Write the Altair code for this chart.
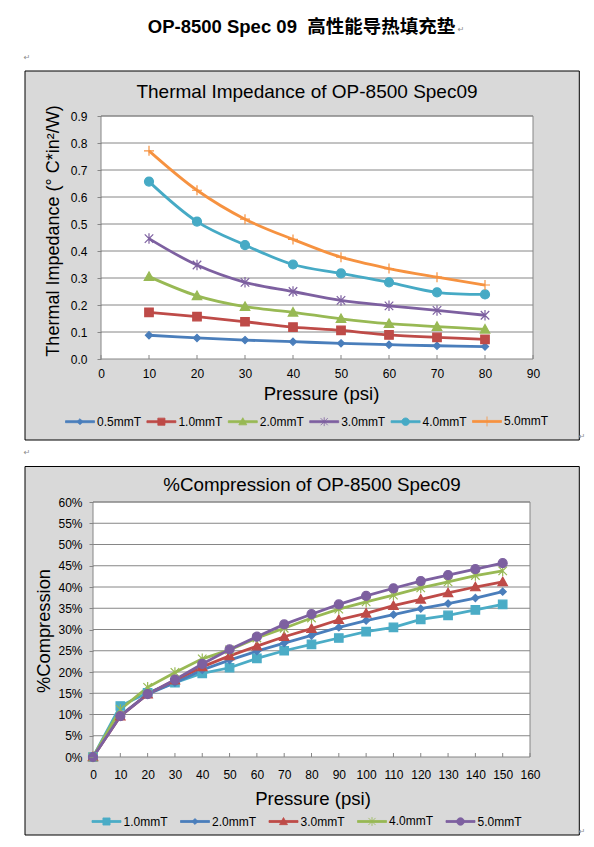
import altair as alt
import pandas as pd

# ---------------- data ----------------
SERIES_1 = ["0.5mmT", "1.0mmT", "2.0mmT", "3.0mmT", "4.0mmT", "5.0mmT"]
PRESSURE_1 = [10, 20, 30, 40, 50, 60, 70, 80]
TI_05 = [0.088, 0.078, 0.070, 0.064, 0.058, 0.053, 0.049, 0.046]
TI_10 = [0.173, 0.157, 0.138, 0.118, 0.106, 0.089, 0.080, 0.073]
TI_20 = [0.305, 0.234, 0.194, 0.173, 0.149, 0.131, 0.120, 0.110]
TI_30 = [0.446, 0.348, 0.284, 0.250, 0.217, 0.197, 0.180, 0.162]
TI_40 = [0.657, 0.509, 0.422, 0.350, 0.317, 0.284, 0.247, 0.239]
TI_50 = [0.771, 0.625, 0.518, 0.443, 0.377, 0.335, 0.303, 0.274]

SERIES_2 = ["1.0mmT", "2.0mmT", "3.0mmT", "4.0mmT", "5.0mmT"]
PRESSURE_2 = [0, 10, 20, 30, 40, 50, 60, 70, 80, 90, 100, 110, 120, 130, 140, 150]
CP_10 = [0.0, 12.0, 15.1, 17.5, 19.7, 21.0, 23.2, 25.0, 26.5, 28.0, 29.5, 30.5, 32.4, 33.3, 34.6, 35.9]
CP_20 = [0.0, 9.8, 14.8, 17.5, 20.5, 22.8, 24.9, 26.8, 28.6, 30.5, 32.1, 33.5, 34.9, 36.1, 37.4, 38.9]
CP_30 = [0.0, 9.6, 14.8, 18.1, 21.2, 23.8, 26.1, 28.3, 30.2, 32.3, 33.8, 35.6, 37.1, 38.6, 40.0, 41.2]
CP_40 = [0.0, 11.2, 16.4, 19.9, 23.1, 25.2, 28.0, 30.3, 32.7, 34.8, 36.5, 38.1, 39.8, 41.2, 42.7, 43.8]
CP_50 = [0.0, 9.6, 14.8, 18.2, 21.9, 25.3, 28.3, 31.2, 33.6, 35.9, 37.9, 39.7, 41.4, 42.8, 44.2, 45.6]

X_TICKS_1 = [0, 10, 20, 30, 40, 50, 60, 70, 80, 90]
Y_TICKS_1 = [0.0, 0.1, 0.2, 0.3, 0.4, 0.5, 0.6, 0.7, 0.8, 0.9]
X_TICKS_2 = [0, 10, 20, 30, 40, 50, 60, 70, 80, 90, 100, 110, 120, 130, 140, 150, 160]
Y_TICKS_2 = [0.0, 0.05, 0.10, 0.15, 0.20, 0.25, 0.30, 0.35, 0.40, 0.45, 0.50, 0.55, 0.60]

HEADER = "OP-8500 Spec 09\u00a0 高性能导热填充垫"
TITLE_1 = "Thermal Impedance of OP-8500 Spec09"
YTITLE_1 = "Thermal Impedance (° C*in²/W)"
TITLE_2 = "%Compression of OP-8500 Spec09"
YTITLE_2 = "%Compression"
XTITLE = "Pressure (psi)"

df1 = pd.DataFrame([{"p": p, "v": v, "s": s}
                    for s, vals in zip(SERIES_1, [TI_05, TI_10, TI_20, TI_30, TI_40, TI_50])
                    for p, v in zip(PRESSURE_1, vals)])
df2 = pd.DataFrame([{"p": p, "v": v / 100.0, "s": s}
                    for s, vals in zip(SERIES_2, [CP_10, CP_20, CP_30, CP_40, CP_50])
                    for p, v in zip(PRESSURE_2, vals)])
one = pd.DataFrame({"k": [0]})

# ---------------- styles ----------------
FONT = "Liberation Sans"
GRID = "#868686"
BOXFILL = "#d9d9d9"
RET = "#8c8c8c"
COLORS_1 = ["#4a7ebb", "#be4b48", "#98b954", "#7d60a0", "#46aac5", "#f69240"]
COLORS_2 = ["#4bacc6", "#4a7ebb", "#be4b48", "#98b954", "#7d60a0"]
MARKS_1 = ["diamond", "square", "triangle", "star", "circle", "plus"]
MARKS_2 = ["square", "diamond", "triangle", "star", "circle"]


def f(v):
    return ("%.4f" % v).rstrip("0").rstrip(".")


def circle_path(r):
    k = 0.5523 * r
    return ("M{r},0C{r},{k} {k},{r} 0,{r}C{mk},{r} {mr},{k} {mr},0"
            "C{mr},{mk} {mk},{mr} 0,{mr}C{k},{mr} {r},{mk} {r},0Z").format(
        r=f(r), k=f(k), mr=f(-r), mk=f(-k))


def marker_paths(s):
    """marker outlines, s = unit half-size"""
    return {
        "diamond": "M0,{a}L{b},0L0,{c}L{a},0Z".format(a=f(-0.72 * s), b=f(0.72 * s), c=f(0.72 * s)),
        "square": "M{a},{a}H{b}V{b}H{a}Z".format(a=f(-0.85 * s), b=f(0.85 * s)),
        "triangle": "M0,{t}L{w},{h}H{mw}Z".format(t=f(-0.95 * s), w=f(0.95 * s), h=f(0.75 * s), mw=f(-0.95 * s)),
        "star": "M{a},{a}L{b},{b}M{a},{b}L{b},{a}M0,{c}V{d}".format(
            a=f(-0.85 * s), b=f(0.85 * s), c=f(-1.05 * s), d=f(1.05 * s)),
        "circle": circle_path(0.9 * s),
        "plus": "M{a},0H{b}M0,{a}V{b}".format(a=f(-1.0 * s), b=f(1.0 * s)),
    }


PT = marker_paths(1.0)            # plot markers, drawn at size 100 (1 unit = 5 px)
LGM = marker_paths(0.29)          # legend markers, drawn at size 841 (1 unit = 14.5 px)
LGM["plus"] = "M0,-0.34V0.34"
SEG = "M-1,-0.069H1V0.069H-1Z"   # legend line segment, 29 px long


def rect(x1, y1, x2, y2, fill, stroke=None, sw=0):
    kw = dict(fill=fill)
    if stroke:
        kw.update(stroke=stroke, strokeWidth=sw)
    return alt.Chart(one).mark_rect(**kw).encode(
        x=alt.value(x1), x2=alt.value(x2), y=alt.value(y1), y2=alt.value(y2))


def text(t, x, y, size, font=FONT, color="black", **kw):
    return alt.Chart(one).mark_text(text=t, fontSize=size, font=font, color=color,
                                    align="center", baseline="middle", **kw).encode(
        x=alt.value(x), y=alt.value(y))


def ret(x, y):
    return text("\u21b5", x, y, 8, font="DejaVu Sans", color=RET)


def axis_x(values, pad):
    return alt.Axis(values=values, format="d", title=None, grid=False, domain=False, ticks=False,
                    labelPadding=pad, labelFlush=False, labelOverlap=False, zindex=1,
                    labelFont=FONT, labelFontSize=12, labelColor="black")


def axis_y(values, fmt, pad, offset=0):
    return alt.Axis(values=values, format=fmt, title=None, grid=False, domain=False,
                    tickSize=4, tickColor=GRID, tickWidth=1, labelPadding=pad, offset=offset,
                    labelFlush=False, labelOverlap=False, zindex=1,
                    labelFont=FONT, labelFontSize=12, labelColor="black")


def make_legend(lx, ly, ncol, colpad):
    return alt.Legend(title=None, orient="none", legendX=lx, legendY=ly, direction="horizontal",
                      columns=ncol, columnPadding=colpad, symbolSize=841, symbolStrokeWidth=0.8,
                      labelOffset=2, padding=0, labelFont=FONT, labelFontSize=12,
                      labelColor="black", zindex=1)


def data_layers(df, series, colors, marks, xs, ys, xax, yax, legend, x0, x1, H, xticks, ygrid, interp):
    grid = alt.Chart(pd.DataFrame({"v": ygrid})).mark_rule(color=GRID, strokeWidth=1).encode(
        y=alt.Y("v:Q", scale=ys, axis=yax), x=alt.value(x0), x2=alt.value(x1))
    ticks = alt.Chart(pd.DataFrame({"p": xticks})).mark_rule(color=GRID, strokeWidth=1).encode(
        x=alt.X("p:Q", scale=xs, axis=xax), y=alt.value(H - 4), y2=alt.value(H))
    lkw = dict(strokeWidth=2.8)
    if interp:
        lkw["interpolate"] = interp
    lines = alt.Chart(df).mark_line(**lkw).encode(
        x=alt.X("p:Q", scale=xs, axis=xax),
        y=alt.Y("v:Q", scale=ys, axis=yax),
        color=alt.Color("s:N", scale=alt.Scale(domain=series, range=colors), legend=None),
    )
    pts = alt.Chart(df).mark_point(filled=True, size=100, strokeWidth=1.2, opacity=1).encode(
        x=alt.X("p:Q", scale=xs, axis=xax),
        y=alt.Y("v:Q", scale=ys, axis=yax),
        color=alt.Color("s:N", scale=alt.Scale(domain=series, range=colors), legend=None),
        stroke=alt.Stroke("s:N", scale=alt.Scale(domain=series, range=colors), legend=None),
        shape=alt.Shape("s:N", scale=alt.Scale(domain=series, range=[PT[m] for m in marks]), legend=None),
    )
    # legend-only layer: no rows survive the filter, the legend comes from the scale domains
    leg = alt.Chart(df).transform_filter("datum.v < 0").mark_point(
        filled=True, size=841, strokeWidth=0.8, opacity=1).encode(
        color=alt.Color("s:N", scale=alt.Scale(domain=series, range=colors), legend=legend),
        stroke=alt.Stroke("s:N", scale=alt.Scale(domain=series, range=colors), legend=legend),
        shape=alt.Shape("s:N", scale=alt.Scale(domain=series, range=[SEG + " " + LGM[m] for m in marks]),
                        legend=legend),
    )
    return [grid, ticks, lines, pts, leg]


RES = dict(color="independent", stroke="independent", shape="independent")

# both panels share the same group origin (x = 101 on the page)
# ---------------- panel 1 : thermal impedance ----------------
W1, H1 = 432, 243
X1 = lambda px: px - 101
Y1 = lambda py: py - 116
xs1 = alt.Scale(domain=[0, 90], nice=False, zero=False)
ys1 = alt.Scale(domain=[0, 0.9], nice=False)
leg1 = make_legend(X1(65), Y1(406.2), 6, 2.4)
p1_layers = [
    rect(X1(8), Y1(8), X1(584), Y1(460), "white"),
    rect(X1(25), Y1(71), X1(579.3), Y1(440), BOXFILL, "black", 1),
    rect(0, 0, W1, H1, "white", GRID, 1),
] + data_layers(df1, SERIES_1, COLORS_1, MARKS_1, xs1, ys1,
                axis_x(X_TICKS_1, 9.8), axis_y(Y_TICKS_1, ".1f", 10), leg1,
                0, W1, H1, X_TICKS_1, Y_TICKS_1[1:], "catmull-rom") + [
    text(HEADER, X1(301.5), Y1(26.7), 18.5, font=FONT + ", Noto Sans CJK SC", fontWeight="bold"),
    ret(X1(461), Y1(30)),
    ret(X1(27), Y1(58)),
    text(TITLE_1, X1(307), Y1(91.7), 19),
    text(YTITLE_1, X1(54), Y1(231), 18, angle=270),
    text(XTITLE, X1(321.5), Y1(394.3), 18.6),
    ret(X1(582), Y1(437)),
    ret(X1(27), Y1(453)),
]
p1 = alt.layer(*p1_layers).resolve_scale(**RES).properties(width=W1, height=H1)

# ---------------- panel 2 : compression ----------------
X2 = lambda px: px - 101
Y2 = lambda py: py - 502
L2, R2 = X2(93), X2(530)          # plot area spans page x 93 .. 530
W2, H2 = R2, 255
xs2 = alt.Scale(domain=[0, 160], nice=False, zero=False, range=[L2, R2])
ys2 = alt.Scale(domain=[0, 0.6], nice=False)
leg2 = make_legend(X2(91.5), Y2(806), 5, 9.5)
p2_layers = [
    rect(X2(8), Y2(460), X2(584), Y2(836), "white"),
    rect(X2(25), Y2(466.5), X2(579.3), Y2(835), BOXFILL, "black", 1),
    rect(L2, 0, R2, H2, "white", GRID, 1),
] + data_layers(df2, SERIES_2, COLORS_2, MARKS_2, xs2, ys2,
                axis_x(X_TICKS_2, 12), axis_y(Y_TICKS_2, ".0%", 7, offset=-L2), leg2,
                L2, R2, H2, X_TICKS_2, Y_TICKS_2[1:], None) + [
    text(TITLE_2, X2(312), Y2(485), 18.8),
    text(YTITLE_2, X2(45), Y2(631), 18.3, angle=270),
    text(XTITLE, X2(313), Y2(799.3), 18.6),
    ret(X2(582), Y2(832)),
]
p2 = alt.layer(*p2_layers).resolve_scale(**RES).properties(width=W2, height=H2)

chart = (alt.vconcat(p1, p2, spacing=0)
         .resolve_scale(**RES)
         .properties(padding=0)
         .configure_view(strokeWidth=0))
chart.save("out.html", embed_options={"renderer": "svg", "actions": False})
